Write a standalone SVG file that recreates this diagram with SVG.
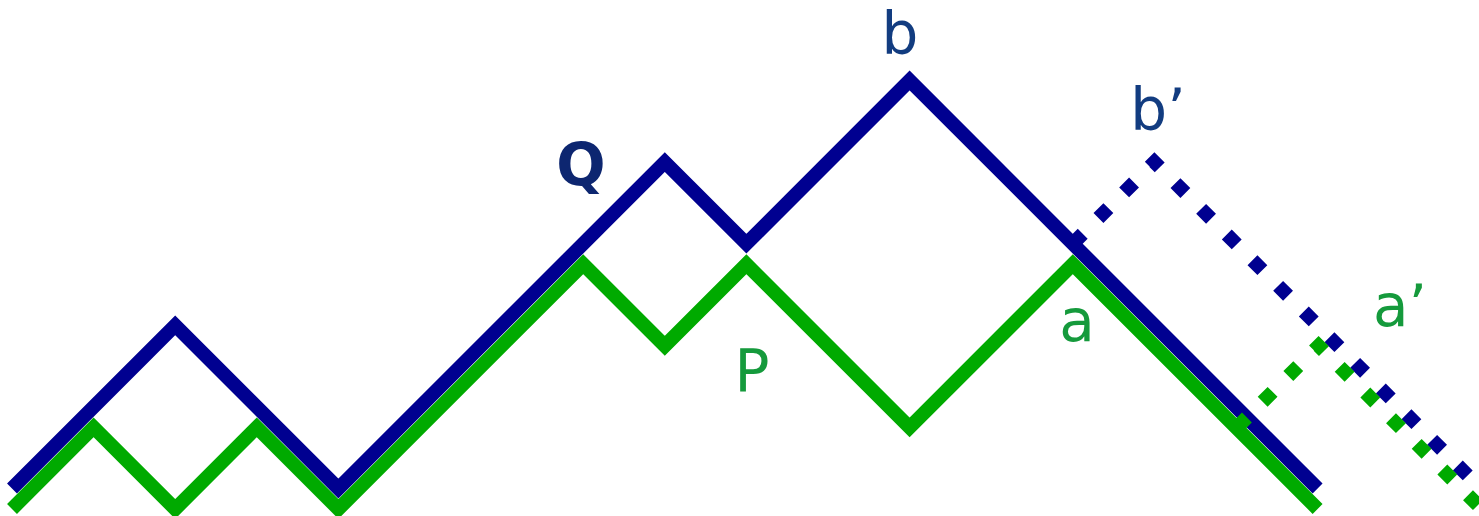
<svg xmlns="http://www.w3.org/2000/svg" width="1479" height="516" viewBox="0 0 1479 516">
<style>
.path{fill:none;stroke-width:14;stroke-linejoin:miter;stroke-linecap:butt;stroke-miterlimit:10}
.blue{stroke:#000090}
.green{stroke:#00aa00}
.dot{stroke-dasharray:14 22.3}
.lbl{font-family:"DejaVu Sans",sans-serif;font-size:58px;text-anchor:middle}
.lb{fill:#123c80}
.lg{fill:#159a3c}
</style>
<rect width="1479" height="516" fill="#ffffff"/>
<g id="paths">
<path id="Q-path" class="path blue" d="M12,488.5 L175.2,325.3 L338.4,488.5 L664.8,162.1 L746.4,243.7 L909.6,80.5 L1317.6,488.5"/>
<path id="P-path" class="path green" d="M12,509 L93.6,427.4 L175.2,509 L256.8,427.4 L338.4,509 L583.2,264.2 L664.8,345.8 L746.4,264.2 L909.6,427.4 L1072.8,264.2 L1317.6,509"/>
<path id="Q-reflected" class="path blue dot" d="M1072.8,243.7 L1154.4,162.1 L1480.8,488.5"/>
<path id="P-reflected" class="path green dot" d="M1237,427.4 L1318.6,345.8 L1481.8,509"/>
</g>
<g id="labels">
<text id="label-Q" class="lbl lb" x="581" y="185" font-size="62" font-weight="bold" style="fill:#0d2670">Q</text>
<text id="label-b" class="lbl lb" x="900" y="54">b</text>
<text id="label-b-prime" class="lbl lb" x="1158" y="130">b’</text>
<text id="label-P" class="lbl lg" x="752" y="391" font-size="62">P</text>
<text id="label-a" class="lbl lg" x="1077" y="341">a</text>
<text id="label-a-prime" class="lbl lg" x="1400" y="326">a’</text>
</g>
</svg>
